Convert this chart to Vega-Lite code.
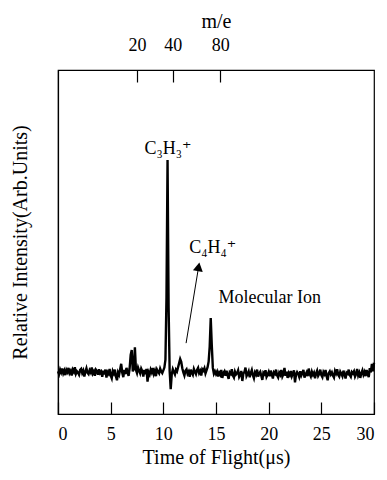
{
"$schema":"https://vega.github.io/schema/vega-lite/v6.json",
"width":316,"height":344,
"autosize":{"type":"none"},
"padding":{"left":58,"top":70,"right":13,"bottom":66},
"background":"white",
"config":{"font":"Times New Roman, Liberation Serif, DejaVu Serif, serif","view":{"stroke":"black","strokeWidth":1.2},
"axis":{"grid":false,"domainColor":"black","domainWidth":1.2,"tickColor":"black","tickWidth":1.2,"labelColor":"black","titleColor":"black","labelFont":"Times New Roman, Liberation Serif, DejaVu Serif, serif","titleFont":"Times New Roman, Liberation Serif, DejaVu Serif, serif","labelFontSize":18,"titleFontSize":20,"titleFontWeight":"normal"}},
"datasets":{
"spectrum":[
{"t":0.0,"v":12.4},{"t":0.1,"v":11.6},{"t":0.2,"v":12.9},{"t":0.3,"v":12.1},{"t":0.4,"v":13.2},{"t":0.5,"v":11.8},{"t":0.6,"v":12.6},{"t":0.7,"v":11.3},{"t":0.8,"v":12.8},{"t":0.9,"v":12.2},
{"t":1.0,"v":13.4},{"t":1.1,"v":11.9},{"t":1.2,"v":12.5},{"t":1.3,"v":11.2},{"t":1.4,"v":12.9},{"t":1.5,"v":12.3},{"t":1.6,"v":13.6},{"t":1.7,"v":11.7},{"t":1.8,"v":12.4},{"t":1.9,"v":12.0},
{"t":2.0,"v":11.4},{"t":2.1,"v":12.8},{"t":2.2,"v":13.1},{"t":2.3,"v":11.9},{"t":2.4,"v":12.6},{"t":2.5,"v":10.9},{"t":2.6,"v":12.3},{"t":2.7,"v":13.3},{"t":2.8,"v":12.0},{"t":2.9,"v":11.6},
{"t":3.0,"v":12.7},{"t":3.1,"v":12.1},{"t":3.2,"v":13.5},{"t":3.3,"v":11.8},{"t":3.4,"v":12.4},{"t":3.5,"v":11.1},{"t":3.6,"v":12.9},{"t":3.7,"v":12.5},{"t":3.8,"v":11.4},{"t":3.9,"v":13.0},
{"t":4.0,"v":11.9},{"t":4.1,"v":12.3},{"t":4.2,"v":10.8},{"t":4.3,"v":12.6},{"t":4.4,"v":11.5},{"t":4.5,"v":12.9},{"t":4.6,"v":10.6},{"t":4.7,"v":12.2},{"t":4.8,"v":11.7},{"t":4.9,"v":13.1},
{"t":5.0,"v":11.2},{"t":5.1,"v":10.4},{"t":5.2,"v":12.5},{"t":5.3,"v":11.8},{"t":5.4,"v":12.9},{"t":5.5,"v":10.9},{"t":5.6,"v":9.8},{"t":5.7,"v":12.1},{"t":5.8,"v":11.4},{"t":5.9,"v":13.0},
{"t":6.0,"v":14.6},{"t":6.1,"v":12.0},{"t":6.2,"v":10.7},{"t":6.3,"v":12.8},{"t":6.4,"v":11.6},{"t":6.5,"v":13.4},{"t":6.6,"v":12.2},{"t":6.7,"v":11.1},{"t":6.8,"v":13.3},{"t":6.9,"v":17.2},
{"t":7.0,"v":18.6},{"t":7.1,"v":12.4},{"t":7.2,"v":13.1},{"t":7.3,"v":19.4},{"t":7.4,"v":12.8},{"t":7.5,"v":11.9},{"t":7.6,"v":13.5},{"t":7.7,"v":12.6},{"t":7.8,"v":11.8},{"t":7.9,"v":13.2},
{"t":8.0,"v":12.5},{"t":8.1,"v":10.9},{"t":8.2,"v":12.8},{"t":8.3,"v":11.6},{"t":8.4,"v":13.1},{"t":8.5,"v":9.4},{"t":8.6,"v":12.2},{"t":8.7,"v":11.5},{"t":8.8,"v":12.9},{"t":8.9,"v":12.1},
{"t":9.0,"v":13.4},{"t":9.1,"v":11.7},{"t":9.2,"v":12.6},{"t":9.3,"v":11.0},{"t":9.4,"v":12.9},{"t":9.5,"v":12.3},{"t":9.6,"v":11.8},{"t":9.7,"v":13.2},{"t":9.8,"v":12.4},{"t":9.9,"v":11.9},
{"t":10.0,"v":12.7},{"t":10.1,"v":13.5},{"t":10.2,"v":15.8},{"t":10.3,"v":34.0},{"t":10.4,"v":73.8},{"t":10.5,"v":31.0},{"t":10.6,"v":12.5},{"t":10.7,"v":7.2},{"t":10.8,"v":11.6},{"t":10.9,"v":13.0},
{"t":11.0,"v":12.2},{"t":11.1,"v":11.5},{"t":11.2,"v":12.9},{"t":11.3,"v":12.4},{"t":11.4,"v":13.6},{"t":11.5,"v":14.8},{"t":11.6,"v":16.0},{"t":11.7,"v":15.2},{"t":11.8,"v":13.3},{"t":11.9,"v":12.1},
{"t":12.0,"v":11.2},{"t":12.1,"v":12.6},{"t":12.2,"v":13.0},{"t":12.3,"v":11.7},{"t":12.4,"v":12.3},{"t":12.5,"v":10.8},{"t":12.6,"v":12.9},{"t":12.7,"v":12.0},{"t":12.8,"v":11.4},{"t":12.9,"v":13.1},
{"t":13.0,"v":12.3},{"t":13.1,"v":11.6},{"t":13.2,"v":12.8},{"t":13.3,"v":13.4},{"t":13.4,"v":11.9},{"t":13.5,"v":12.5},{"t":13.6,"v":11.2},{"t":13.7,"v":13.0},{"t":13.8,"v":12.6},{"t":13.9,"v":13.3},
{"t":14.0,"v":11.8},{"t":14.1,"v":12.7},{"t":14.2,"v":13.6},{"t":14.3,"v":15.2},{"t":14.4,"v":19.5},{"t":14.5,"v":27.9},{"t":14.6,"v":20.0},{"t":14.7,"v":13.4},{"t":14.8,"v":11.7},{"t":14.9,"v":12.4},
{"t":15.0,"v":11.6},{"t":15.1,"v":12.3},{"t":15.2,"v":10.9},{"t":15.3,"v":12.0},{"t":15.4,"v":11.4},{"t":15.5,"v":12.8},{"t":15.6,"v":10.5},{"t":15.7,"v":11.9},{"t":15.8,"v":12.4},{"t":15.9,"v":11.1},
{"t":16.0,"v":12.6},{"t":16.1,"v":11.3},{"t":16.2,"v":10.2},{"t":16.3,"v":12.1},{"t":16.4,"v":11.7},{"t":16.5,"v":13.0},{"t":16.6,"v":11.2},{"t":16.7,"v":10.6},{"t":16.8,"v":12.3},{"t":16.9,"v":11.5},
{"t":17.0,"v":11.9},{"t":17.1,"v":12.7},{"t":17.2,"v":10.8},{"t":17.3,"v":11.4},{"t":17.4,"v":12.5},{"t":17.5,"v":9.6},{"t":17.6,"v":11.8},{"t":17.7,"v":12.2},{"t":17.8,"v":13.5},{"t":17.9,"v":11.0},
{"t":18.0,"v":11.6},{"t":18.1,"v":12.4},{"t":18.2,"v":10.7},{"t":18.3,"v":11.9},{"t":18.4,"v":12.8},{"t":18.5,"v":11.3},{"t":18.6,"v":10.4},{"t":18.7,"v":12.1},{"t":18.8,"v":11.5},{"t":18.9,"v":12.9},
{"t":19.0,"v":10.9},{"t":19.1,"v":11.8},{"t":19.2,"v":12.3},{"t":19.3,"v":11.1},{"t":19.4,"v":9.9},{"t":19.5,"v":12.0},{"t":19.6,"v":11.6},{"t":19.7,"v":12.7},{"t":19.8,"v":10.8},{"t":19.9,"v":11.4},
{"t":20.0,"v":12.2},{"t":20.1,"v":11.0},{"t":20.2,"v":12.6},{"t":20.3,"v":11.5},{"t":20.4,"v":10.3},{"t":20.5,"v":12.1},{"t":20.6,"v":11.7},{"t":20.7,"v":12.9},{"t":20.8,"v":11.2},{"t":20.9,"v":10.6},
{"t":21.0,"v":12.0},{"t":21.1,"v":11.4},{"t":21.2,"v":12.8},{"t":21.3,"v":10.9},{"t":21.4,"v":11.6},{"t":21.5,"v":13.4},{"t":21.6,"v":11.1},{"t":21.7,"v":12.3},{"t":21.8,"v":10.5},{"t":21.9,"v":11.9},
{"t":22.0,"v":11.3},{"t":22.1,"v":12.5},{"t":22.2,"v":11.0},{"t":22.3,"v":11.8},{"t":22.4,"v":12.7},{"t":22.5,"v":9.2},{"t":22.6,"v":11.5},{"t":22.7,"v":12.2},{"t":22.8,"v":11.7},{"t":22.9,"v":10.8},
{"t":23.0,"v":12.4},{"t":23.1,"v":11.2},{"t":23.2,"v":11.9},{"t":23.3,"v":12.8},{"t":23.4,"v":10.6},{"t":23.5,"v":11.5},{"t":23.6,"v":12.1},{"t":23.7,"v":11.0},{"t":23.8,"v":13.2},{"t":23.9,"v":11.6},
{"t":24.0,"v":10.9},{"t":24.1,"v":12.3},{"t":24.2,"v":11.4},{"t":24.3,"v":12.0},{"t":24.4,"v":10.4},{"t":24.5,"v":11.8},{"t":24.6,"v":12.6},{"t":24.7,"v":11.1},{"t":24.8,"v":11.7},{"t":24.9,"v":12.9},
{"t":25.0,"v":11.3},{"t":25.1,"v":10.7},{"t":25.2,"v":12.2},{"t":25.3,"v":11.6},{"t":25.4,"v":12.8},{"t":25.5,"v":11.0},{"t":25.6,"v":9.8},{"t":25.7,"v":11.9},{"t":25.8,"v":12.4},{"t":25.9,"v":11.5},
{"t":26.0,"v":12.1},{"t":26.1,"v":11.2},{"t":26.2,"v":10.6},{"t":26.3,"v":12.5},{"t":26.4,"v":11.8},{"t":26.5,"v":13.0},{"t":26.6,"v":11.4},{"t":26.7,"v":10.9},{"t":26.8,"v":12.3},{"t":26.9,"v":11.7},
{"t":27.0,"v":11.0},{"t":27.1,"v":12.6},{"t":27.2,"v":11.5},{"t":27.3,"v":10.3},{"t":27.4,"v":12.0},{"t":27.5,"v":11.7},{"t":27.6,"v":12.9},{"t":27.7,"v":11.3},{"t":27.8,"v":10.8},{"t":27.9,"v":12.2},
{"t":28.0,"v":11.8},{"t":28.1,"v":12.4},{"t":28.2,"v":10.9},{"t":28.3,"v":11.6},{"t":28.4,"v":13.1},{"t":28.5,"v":11.2},{"t":28.6,"v":12.0},{"t":28.7,"v":10.5},{"t":28.8,"v":11.9},{"t":28.9,"v":12.7},
{"t":29.0,"v":11.4},{"t":29.1,"v":12.2},{"t":29.2,"v":11.0},{"t":29.3,"v":12.8},{"t":29.4,"v":11.6},{"t":29.5,"v":10.7},{"t":29.6,"v":13.3},{"t":29.7,"v":12.1},{"t":29.8,"v":14.6},{"t":29.9,"v":12.4},
{"t":30.0,"v":14.9}
],
"massTicks":[{"t":7.5,"mass":20},{"t":10.9,"mass":40},{"t":15.4,"mass":80}],
"labels":[{"t":10.45,"v":77.0,"label":"C₃H₃⁺"},{"t":14.7,"v":48.3,"label":"C₄H₄⁺"},{"t":20.1,"v":33.7,"label":"Molecular Ion"}],
"arrow":[{"t":12.16,"v":20.6},{"t":13.35,"v":42.8}],
"arrowHead":[{"t":13.35,"v":42.8}]
},
"layer":[
{"layer":[
{"data":{"name":"spectrum"},"mark":{"type":"line","color":"black","strokeWidth":2.4},
"encoding":{
"x":{"field":"t","type":"quantitative","scale":{"domain":[0,30],"nice":false},
"axis":{"orient":"bottom","values":[0,5,10,15,20,25,30],"tickSize":-12,"labelPadding":23,"title":"Time of Flight(μs)","titlePadding":4}},
"y":{"field":"v","type":"quantitative","scale":{"domain":[0,100],"nice":false},
"axis":{"ticks":false,"labels":false,"title":"Relative Intensity(Arb.Units)","titlePadding":28}}}},
{"data":{"name":"labels"},"mark":{"type":"text","font":"Times New Roman, Liberation Serif, DejaVu Serif, serif","fontSize":18,"color":"black"},
"encoding":{"x":{"field":"t","type":"quantitative"},"y":{"field":"v","type":"quantitative"},"text":{"field":"label"}}},
{"data":{"name":"arrow"},"mark":{"type":"line","color":"black","strokeWidth":1},
"encoding":{"x":{"field":"t","type":"quantitative"},"y":{"field":"v","type":"quantitative"}}},
{"data":{"name":"arrowHead"},"mark":{"type":"point","shape":"triangle-up","filled":true,"color":"black","opacity":1,"size":100,"angle":10},
"encoding":{"x":{"field":"t","type":"quantitative"},"y":{"field":"v","type":"quantitative"}}}
]},
{"data":{"name":"massTicks"},"mark":{"type":"point","opacity":0},
"encoding":{"x":{"field":"t","type":"quantitative","scale":{"domain":[0,30],"nice":false},
"axis":{"orient":"top","values":[7.5,10.9,15.4],"labelExpr":"datum.value < 9 ? '20' : datum.value < 13 ? '40' : '80'","tickSize":-12,"labelPadding":28,"title":"m/e","titlePadding":5}},
"y":{"value":0}}}
],
"resolve":{"scale":{"x":"independent"}}
}
